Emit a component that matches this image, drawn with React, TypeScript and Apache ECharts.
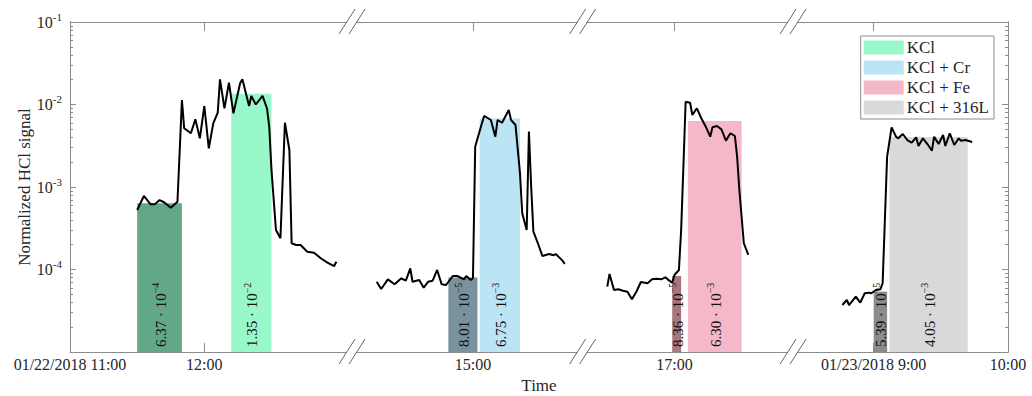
import React, { useEffect, useRef } from 'react';
import * as echarts from 'echarts';

const FONT = '"Liberation Serif", "Times New Roman", serif';
const TEXT = '#262626';
const AXIS = '#8c8c8c';

// Broken time axis: minutes subtracted from each segment's clock time
const SEGMENT_SHIFT_MIN = [660, 720, 750, 181];
const AXIS_START: [number, string] = [0, '11:00'];
const AXIS_END: [number, string] = [3, '10:00'];
const BREAK_TIMES: [number, string][] = [[0, '13:06'], [1, '15:49'], [2, '17:53']];

const TICK_LABELS = ['01/22/2018 11:00', '12:00', '15:00', '17:00', '01/23/2018 9:00', '10:00'];
const TICK_TIMES: [number, string][] = [[0, '11:00'], [0, '12:00'], [1, '15:00'], [2, '17:00'], [3, '09:00'], [3, '10:00']];

const Y_MIN = 1e-5;
const Y_MAX = 1e-1;

// HCl signal, segment 1 (01/22)
const SEG1_TIME = ['11:30', '11:33', '11:36', '11:38', '11:40', '11:42', '11:45', '11:48', '11:50', '11:51',
  '11:54', '11:56', '11:58', '12:00', '12:02', '12:04', '12:06', '12:07', '12:09', '12:11',
  '12:13', '12:16', '12:17', '12:20', '12:21', '12:23', '12:26', '12:28', '12:29', '12:30',
  '12:32', '12:34', '12:36', '12:38', '12:39', '12:41', '12:43', '12:46', '12:49', '12:52',
  '12:55', '12:58', '12:59'];
const SEG1_SIGNAL = [5.26e-4, 7.78e-4, 6.17e-4, 6.20e-4, 6.95e-4, 6.53e-4, 5.61e-4, 6.64e-4, 1.13e-2, 5.15e-3,
  4.48e-3, 6.62e-3, 3.89e-3, 9.59e-3, 2.94e-3, 5.91e-3, 7.96e-3, 2.02e-2, 8.99e-3, 1.84e-2,
  7.82e-3, 1.81e-2, 2.02e-2, 9.59e-3, 1.27e-2, 1.00e-2, 1.27e-2, 8.99e-3, 5.38e-3, 1.61e-3,
  3.01e-4, 2.39e-4, 6.01e-3, 2.81e-3, 2.08e-4, 1.98e-4, 1.98e-4, 1.64e-4, 1.60e-4, 1.37e-4,
  1.21e-4, 1.10e-4, 1.24e-4];

const SEG2_TIME = ['14:17', '14:19', '14:22', '14:25', '14:28', '14:30', '14:32', '14:33', '14:36', '14:38',
  '14:40', '14:42', '14:44', '14:46', '14:48', '14:51', '14:53', '14:56', '14:57', '14:59',
  '15:00', '15:01', '15:04', '15:05', '15:08', '15:10', '15:11', '15:13', '15:16', '15:17',
  '15:19', '15:21', '15:22', '15:24', '15:25', '15:26', '15:27', '15:29', '15:31', '15:34',
  '15:36', '15:37', '15:40', '15:41'];
const SEG2_SIGNAL = [7.11e-5, 5.81e-5, 7.60e-5, 6.62e-5, 7.82e-5, 7.31e-5, 1.03e-4, 7.11e-5, 7.46e-5, 6.01e-5,
  7.11e-5, 7.31e-5, 9.87e-5, 6.62e-5, 6.49e-5, 8.34e-5, 8.34e-5, 7.60e-5, 8.34e-5, 7.46e-5,
  7.82e-5, 3.08e-3, 5.91e-3, 7.26e-3, 6.49e-3, 4.07e-3, 6.49e-3, 6.01e-3, 8.57e-3, 6.49e-3,
  5.65e-3, 1.47e-3, 4.80e-4, 3.01e-4, 4.69e-3, 1.01e-3, 2.87e-4, 2.08e-4, 1.46e-4, 1.54e-4,
  1.49e-4, 1.54e-4, 1.28e-4, 1.17e-4];

const SEG3_TIME = ['16:30', '16:31', '16:33', '16:35', '16:37', '16:39', '16:41', '16:43', '16:45', '16:48',
  '16:50', '16:52', '16:54', '16:56', '16:57', '16:59', '17:00', '17:02', '17:03', '17:04',
  '17:05', '17:07', '17:08', '17:10', '17:12', '17:14', '17:16', '17:17', '17:19', '17:21',
  '17:23', '17:25', '17:27', '17:28', '17:29', '17:31', '17:33'];
const SEG3_SIGNAL = [6.19e-5, 8.81e-5, 5.65e-5, 5.75e-5, 5.53e-5, 5.38e-5, 4.36e-5, 5.38e-5, 7.05e-5, 6.81e-5,
  7.60e-5, 7.74e-5, 7.60e-5, 8.04e-5, 7.60e-5, 6.92e-5, 8.57e-5, 9.87e-5, 3.01e-4, 1.76e-3,
  1.08e-2, 1.05e-2, 7.46e-3, 8.99e-3, 6.81e-3, 5.38e-3, 4.07e-3, 5.29e-3, 5.49e-3, 5.00e-3,
  3.64e-3, 4.48e-3, 4.15e-3, 2.33e-3, 9.20e-4, 2.08e-4, 1.50e-4];

// HCl signal, segment 4 (01/23)
const SEG4_TIME = ['08:46', '08:48', '08:49', '08:52', '08:54', '08:56', '08:58', '08:59', '09:01', '09:03',
  '09:04', '09:05', '09:06', '09:08', '09:10', '09:11', '09:13', '09:15', '09:17', '09:19',
  '09:20', '09:22', '09:24', '09:26', '09:27', '09:29', '09:31', '09:32', '09:34', '09:36',
  '09:38', '09:39', '09:41', '09:44'];
const SEG4_SIGNAL = [3.71e-5, 4.27e-5, 3.71e-5, 4.68e-5, 3.96e-5, 5.15e-5, 5.24e-5, 5.15e-5, 5.65e-5, 5.75e-5,
  6.81e-5, 3.98e-4, 2.33e-3, 5.29e-3, 4.07e-3, 3.89e-3, 4.39e-3, 3.71e-3, 3.44e-3, 4.00e-3,
  3.14e-3, 3.89e-3, 3.32e-3, 2.75e-3, 4.07e-3, 3.32e-3, 4.27e-3, 3.14e-3, 4.48e-3, 3.23e-3,
  3.89e-3, 3.64e-3, 3.71e-3, 3.51e-3];

// Averaged bars: baseline (dark) and exposure (light) per sample
const SAMPLE_NAMES = ['KCl', 'KCl + Cr', 'KCl + Fe', 'KCl + 316L'];
const BAR_SEGMENT = [0, 0, 1, 1, 2, 2, 3, 3];
const BAR_START = ['11:30', '12:12', '14:49', '15:03', '16:59', '17:06', '09:00', '09:07'];
const BAR_END = ['11:50', '12:30', '15:02', '15:21', '17:03', '17:30', '09:06', '09:42'];
const BAR_VALUE = [6.37e-4, 1.35e-2, 8.01e-5, 6.75e-3, 8.36e-5, 6.30e-3, 5.39e-5, 4.05e-3];
const BAR_COLORS = ['#62a886', '#98f8ca', '#7892a0', '#bbe4f4', '#a8767f', '#f5b8c8', '#8c8c8c', '#d9d9d9'];

const toAxis = (seg: number, clock: string) => {
  const [h, m] = clock.split(':').map(Number);
  return h * 60 + m - SEGMENT_SHIFT_MIN[seg];
};

const TICK_VALUES = TICK_TIMES.map(([s, t]) => toAxis(s, t));
const MINOR_TICKS: number[] = [];
for (let e = -5; e <= -2; e++) {
  for (let k = 2; k <= 9; k++) MINOR_TICKS.push(k * Math.pow(10, e));
}

const renderBar = (params: any, api: any) => {
  const x0 = api.value(0);
  const x1 = api.value(1);
  const v = api.value(2);
  const tl = api.coord([x0, v]);
  const br = api.coord([x1, Y_MIN]);
  const exp = Math.floor(Math.log10(v) + 1e-9);
  const mant = (v / Math.pow(10, exp)).toFixed(2);
  const cx = (tl[0] + br[0]) / 2;
  return {
    type: 'group',
    children: [
      {
        type: 'rect',
        shape: { x: tl[0], y: tl[1], width: br[0] - tl[0], height: br[1] - tl[1] },
        style: { fill: api.visual('color') },
      },
      {
        type: 'text',
        x: cx + 1,
        y: br[1] - 5,
        rotation: Math.PI / 2,
        z2: 10,
        style: {
          text: `{m|${mant} · 10}{s|−${-exp}}`,
          align: 'left',
          verticalAlign: 'middle',
          textAlign: 'left',
          textVerticalAlign: 'middle',
          fill: '#111',
          rich: {
            m: { fontSize: 15, fontFamily: FONT, lineHeight: 20, verticalAlign: 'middle', fill: '#111' },
            s: { fontSize: 10, fontFamily: FONT, lineHeight: 10, verticalAlign: 'top', fill: '#111' },
          },
        },
      },
    ],
  };
};

const renderBreak = (params: any, api: any) => {
  const x = api.value(0);
  const pts = [api.coord([x, Y_MAX]), api.coord([x, Y_MIN])];
  const children: any[] = [];
  pts.forEach((p) => {
    children.push({
      type: 'polygon',
      shape: { points: [[p[0] - 12, p[1] + 11], [p[0] + 3, p[1] - 12], [p[0] + 12, p[1] - 12], [p[0] - 3, p[1] + 11]] },
      style: { fill: '#fff' },
    });
    children.push({
      type: 'line',
      shape: { x1: p[0] - 13, y1: p[1] + 12, x2: p[0] + 3, y2: p[1] - 13 },
      style: { stroke: '#666', lineWidth: 1 },
    });
    children.push({
      type: 'line',
      shape: { x1: p[0] - 3, y1: p[1] + 12, x2: p[0] + 13, y2: p[1] - 13 },
      style: { stroke: '#666', lineWidth: 1 },
    });
  });
  return { type: 'group', children };
};

const lineSeries = (times: string[], values: number[], seg: number) => ({
  type: 'line',
  name: 'signal',
  xAxisIndex: 0,
  yAxisIndex: 0,
  data: times.map((t, i) => [toAxis(seg, t), values[i]]),
  showSymbol: false,
  symbol: 'none',
  lineStyle: { color: '#000', width: 2 },
  itemStyle: { color: '#000' },
  z: 5,
  animation: false,
});

export default function App() {
  const ref = useRef<HTMLDivElement>(null);
  useEffect(() => {
    if (!ref.current) return;
    const chart = echarts.init(ref.current, undefined, { renderer: 'svg' });
    const xMin = toAxis(AXIS_START[0], AXIS_START[1]);
    const xMax = toAxis(AXIS_END[0], AXIS_END[1]);

    const barSeries = BAR_VALUE.map((v, i) => ({
      type: 'custom',
      name: i % 2 === 1 ? SAMPLE_NAMES[(i - 1) / 2] : SAMPLE_NAMES[i / 2] + ' baseline',
      xAxisIndex: 0,
      yAxisIndex: 0,
      renderItem: renderBar,
      itemStyle: { color: BAR_COLORS[i] },
      encode: { x: [0, 1], y: 2 },
      data: [[toAxis(BAR_SEGMENT[i], BAR_START[i]), toAxis(BAR_SEGMENT[i], BAR_END[i]), v]],
      z: 2,
    }));

    const yCommon = {
      type: 'log',
      logBase: 10,
      min: Y_MIN,
      max: Y_MAX,
      splitLine: { show: false },
      axisLine: { show: true, lineStyle: { color: AXIS, width: 1 } },
    };
    const xCommon = {
      type: 'value',
      min: xMin,
      max: xMax,
      splitLine: { show: false },
      axisLine: { show: true, lineStyle: { color: AXIS, width: 1 } },
    };

    chart.setOption({
      animation: false,
      backgroundColor: '#fff',
      grid: { left: 70, right: 24, top: 22, bottom: 44, outerBoundsMode: 'none', containLabel: false },
      legend: {
        data: SAMPLE_NAMES,
        orient: 'vertical',
        right: 38,
        top: 36,
        icon: 'rect',
        itemWidth: 40,
        itemHeight: 14,
        itemGap: 3,
        padding: [3, 5, 3, 3],
        borderColor: AXIS,
        borderWidth: 1,
        borderRadius: 0,
        backgroundColor: '#fff',
        selectedMode: false,
        textStyle: { fontFamily: FONT, fontSize: 17, color: TEXT, lineHeight: 14, padding: [0, 0, 0, -2] },
      },
      xAxis: [
        {
          ...xCommon,
          position: 'bottom',
          name: 'Time',
          nameLocation: 'middle',
          nameGap: 19,
          nameTextStyle: { fontFamily: FONT, fontSize: 17, color: TEXT },
          axisTick: { show: true, inside: true, length: 9, customValues: TICK_VALUES, lineStyle: { color: AXIS } },
          axisLabel: {
            show: true,
            customValues: TICK_VALUES,
            margin: 4,
            fontFamily: FONT,
            fontSize: 16,
            color: TEXT,
            formatter: (val: number) => {
              const idx = TICK_VALUES.findIndex((t) => Math.abs(t - val) < 1e-6);
              return idx >= 0 ? TICK_LABELS[idx] : '';
            },
          },
        },
        {
          ...xCommon,
          position: 'top',
          axisTick: { show: true, inside: true, length: 9, customValues: TICK_VALUES, lineStyle: { color: AXIS } },
          axisLabel: { show: false },
        },
      ],
      yAxis: [
        {
          ...yCommon,
          position: 'left',
          name: 'Normalized HCl signal',
          nameLocation: 'middle',
          nameGap: 37,
          nameMoveOverlap: false,
          nameTextStyle: { fontFamily: FONT, fontSize: 17, color: TEXT },
          axisTick: { show: true, inside: true, length: 6, lineStyle: { color: AXIS } },
          axisLabel: {
            show: true,
            margin: 8,
            formatter: (val: number) => {
              const e = Math.round(Math.log10(val));
              if (e <= -5) return '';
              return `{b|10}{s|-${-e}}`;
            },
            rich: {
              b: { fontFamily: FONT, fontSize: 16, color: TEXT, lineHeight: 22, verticalAlign: 'middle' },
              s: { fontFamily: FONT, fontSize: 11, color: TEXT, lineHeight: 11, verticalAlign: 'top' },
            },
          },
        },
        {
          ...yCommon,
          position: 'left',
          axisTick: { show: true, inside: true, length: 3, customValues: MINOR_TICKS, lineStyle: { color: AXIS } },
          axisLabel: { show: false },
        },
        {
          ...yCommon,
          position: 'right',
          axisTick: { show: true, inside: true, length: 6, lineStyle: { color: AXIS } },
          axisLabel: { show: false },
        },
        {
          ...yCommon,
          position: 'right',
          axisTick: { show: true, inside: true, length: 3, customValues: MINOR_TICKS, lineStyle: { color: AXIS } },
          axisLabel: { show: false },
        },
      ],
      series: [
        ...barSeries,
        lineSeries(SEG1_TIME, SEG1_SIGNAL, 0),
        lineSeries(SEG2_TIME, SEG2_SIGNAL, 1),
        lineSeries(SEG3_TIME, SEG3_SIGNAL, 2),
        lineSeries(SEG4_TIME, SEG4_SIGNAL, 3),
        {
          type: 'custom',
          name: 'breaks',
          xAxisIndex: 0,
          yAxisIndex: 0,
          renderItem: renderBreak,
          encode: { x: 0 },
          data: BREAK_TIMES.map(([s, t]) => [toAxis(s, t)]),
          z: 10,
          clip: false,
          silent: true,
        },
      ],
    });
    return () => chart.dispose();
  }, []);
  return <div ref={ref} style={{ position: 'fixed', left: 0, top: 0, width: 1032, height: 396 }} />;
}
